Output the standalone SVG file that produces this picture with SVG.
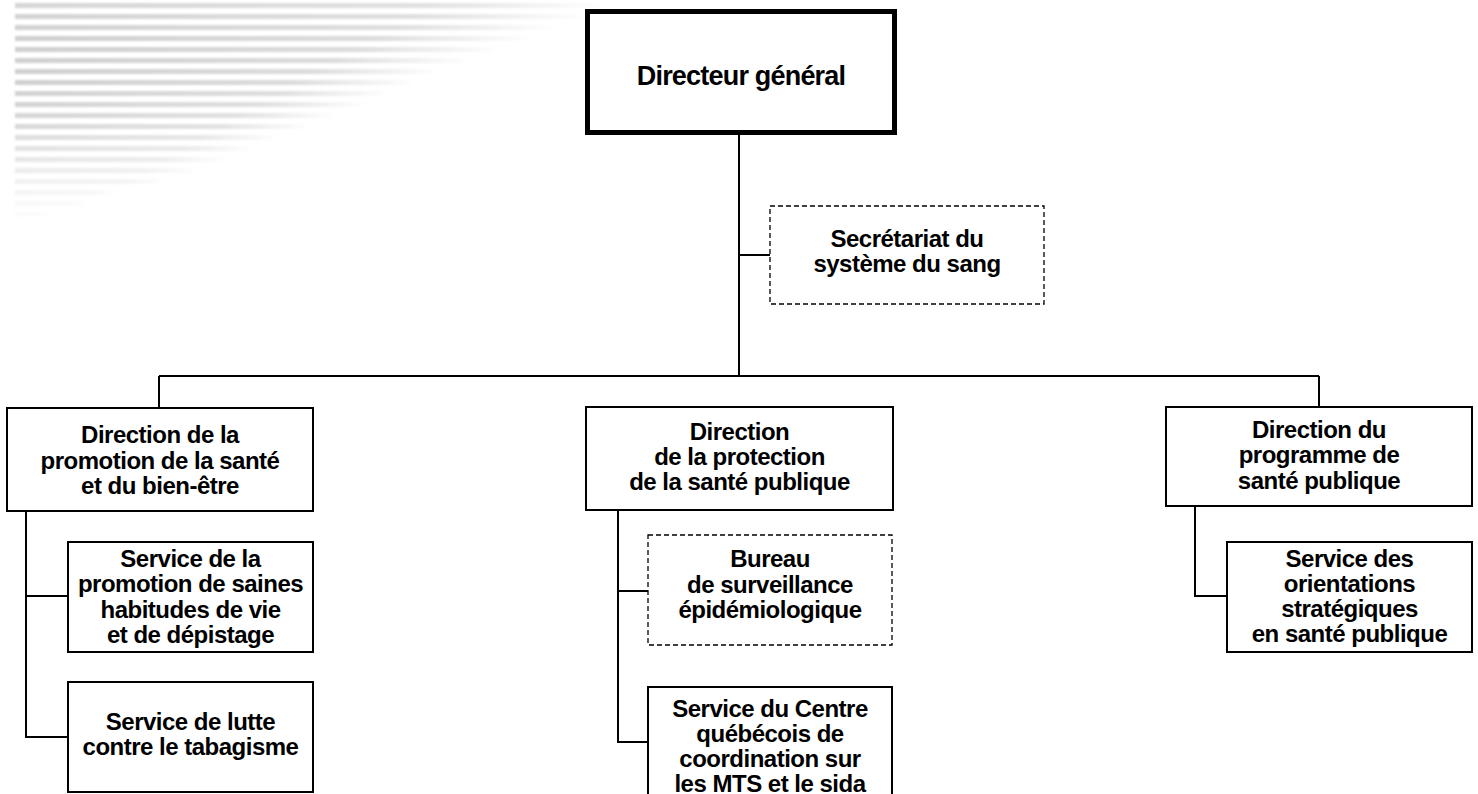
<svg xmlns="http://www.w3.org/2000/svg" width="1478" height="794" viewBox="0 0 1478 794">
<defs>
<linearGradient id="fade" x1="0" y1="0" x2="1" y2="0">
<stop offset="0" stop-color="#cfcfcf"/>
<stop offset="0.7" stop-color="#dcdcdc"/>
<stop offset="1" stop-color="#ffffff"/>
</linearGradient>
<filter id="soft" x="-5%" y="-100%" width="110%" height="300%"><feGaussianBlur stdDeviation="0.9"/></filter>
<style>
.box{fill:#fff;stroke:#000;stroke-width:2}
.dash{fill:#fff;stroke:#000;stroke-width:1.3;stroke-dasharray:5 3}
.main{fill:#fff;stroke:#000;stroke-width:5}
.ln{fill:none;stroke:#000;stroke-width:2}
text{font-family:"Liberation Sans",Arial,sans-serif;font-weight:bold;font-size:24px;letter-spacing:-0.5px;text-anchor:middle;fill:#000}
.t{font-size:27px;letter-spacing:-0.8px}
</style>
</defs>
<g id="background" filter="url(#soft)">
<rect x="15" y="3" width="590" height="5" fill="url(#fade)" opacity="0.85"/>
<rect x="15" y="14" width="570" height="5" fill="url(#fade)" opacity="0.9"/>
<rect x="15" y="25" width="545" height="5" fill="url(#fade)" opacity="0.95"/>
<rect x="15" y="36" width="515" height="5" fill="url(#fade)"/>
<rect x="15" y="47" width="485" height="5" fill="url(#fade)"/>
<rect x="15" y="58" width="455" height="5" fill="url(#fade)"/>
<rect x="15" y="69" width="425" height="5" fill="url(#fade)"/>
<rect x="15" y="80" width="400" height="5" fill="url(#fade)"/>
<rect x="15" y="91" width="375" height="5" fill="url(#fade)" opacity="0.95"/>
<rect x="15" y="102" width="350" height="5" fill="url(#fade)" opacity="0.9"/>
<rect x="15" y="113" width="320" height="5" fill="url(#fade)" opacity="0.85"/>
<rect x="15" y="124" width="295" height="5" fill="url(#fade)" opacity="0.8"/>
<rect x="15" y="135" width="265" height="5" fill="url(#fade)" opacity="0.7"/>
<rect x="15" y="146" width="240" height="5" fill="url(#fade)" opacity="0.6"/>
<rect x="15" y="157" width="210" height="5" fill="url(#fade)" opacity="0.5"/>
<rect x="15" y="168" width="185" height="5" fill="url(#fade)" opacity="0.4"/>
<rect x="15" y="179" width="155" height="5" fill="url(#fade)" opacity="0.3"/>
<rect x="15" y="190" width="105" height="5" fill="url(#fade)" opacity="0.22"/>
<rect x="15" y="201" width="75" height="5" fill="url(#fade)" opacity="0.15"/>
<rect x="15" y="212" width="35" height="4" fill="url(#fade)" opacity="0.1"/>
</g>
<g id="connectors">
<path class="ln" d="M739 135V376"/>
<path class="ln" d="M739 255H770"/>
<path class="ln" d="M159 376H1319"/>
<path class="ln" d="M159 376V408"/>
<path class="ln" d="M1319 376V407"/>
<path class="ln" d="M26 511V737H68"/>
<path class="ln" d="M26 596H68"/>
<path class="ln" d="M618 510V742H648"/>
<path class="ln" d="M618 591H648"/>
<path class="ln" d="M1195 506V596H1227"/>
</g>
<g id="directeur">
<rect class="main" x="587.5" y="11.5" width="307" height="121"/>
<text class="t" x="741" y="85">Directeur général</text>
</g>
<g id="secretariat">
<rect class="dash" x="770" y="206" width="274" height="98"/>
<text x="907" y="247">Secrétariat du</text>
<text x="907" y="272">système du sang</text>
</g>
<g id="dir-promotion">
<rect class="box" x="7" y="408" width="306" height="103"/>
<text x="160" y="443">Direction de la</text>
<text x="160" y="468.5">promotion de la santé</text>
<text x="160" y="494">et du bien-être</text>
</g>
<g id="srv-habitudes">
<rect class="box" x="68" y="542" width="245" height="110"/>
<text x="190.5" y="567">Service de la</text>
<text x="190.5" y="592">promotion de saines</text>
<text x="190.5" y="618">habitudes de vie</text>
<text x="190.5" y="643">et de dépistage</text>
</g>
<g id="srv-tabagisme">
<rect class="box" x="68" y="682" width="245" height="110"/>
<text x="190.5" y="730">Service de lutte</text>
<text x="190.5" y="755">contre le tabagisme</text>
</g>
<g id="dir-protection">
<rect class="box" x="586" y="407" width="307" height="103"/>
<text x="739.5" y="440">Direction</text>
<text x="739.5" y="465">de la protection</text>
<text x="739.5" y="490">de la santé publique</text>
</g>
<g id="bureau">
<rect class="dash" x="648" y="535" width="244" height="110"/>
<text x="770" y="567">Bureau</text>
<text x="770" y="593">de surveillance</text>
<text x="770" y="618">épidémiologique</text>
</g>
<g id="srv-mts">
<rect class="box" x="648" y="687" width="244" height="120"/>
<text x="770" y="717">Service du Centre</text>
<text x="770" y="742">québécois de</text>
<text x="770" y="767">coordination sur</text>
<text x="770" y="792">les MTS et le sida</text>
</g>
<g id="dir-programme">
<rect class="box" x="1166" y="407" width="306" height="99"/>
<text x="1319" y="438">Direction du</text>
<text x="1319" y="463">programme de</text>
<text x="1319" y="489">santé publique</text>
</g>
<g id="srv-orientations">
<rect class="box" x="1227" y="542" width="245" height="110"/>
<text x="1349.5" y="567">Service des</text>
<text x="1349.5" y="592">orientations</text>
<text x="1349.5" y="617">stratégiques</text>
<text x="1349.5" y="642">en santé publique</text>
</g>
</svg>
